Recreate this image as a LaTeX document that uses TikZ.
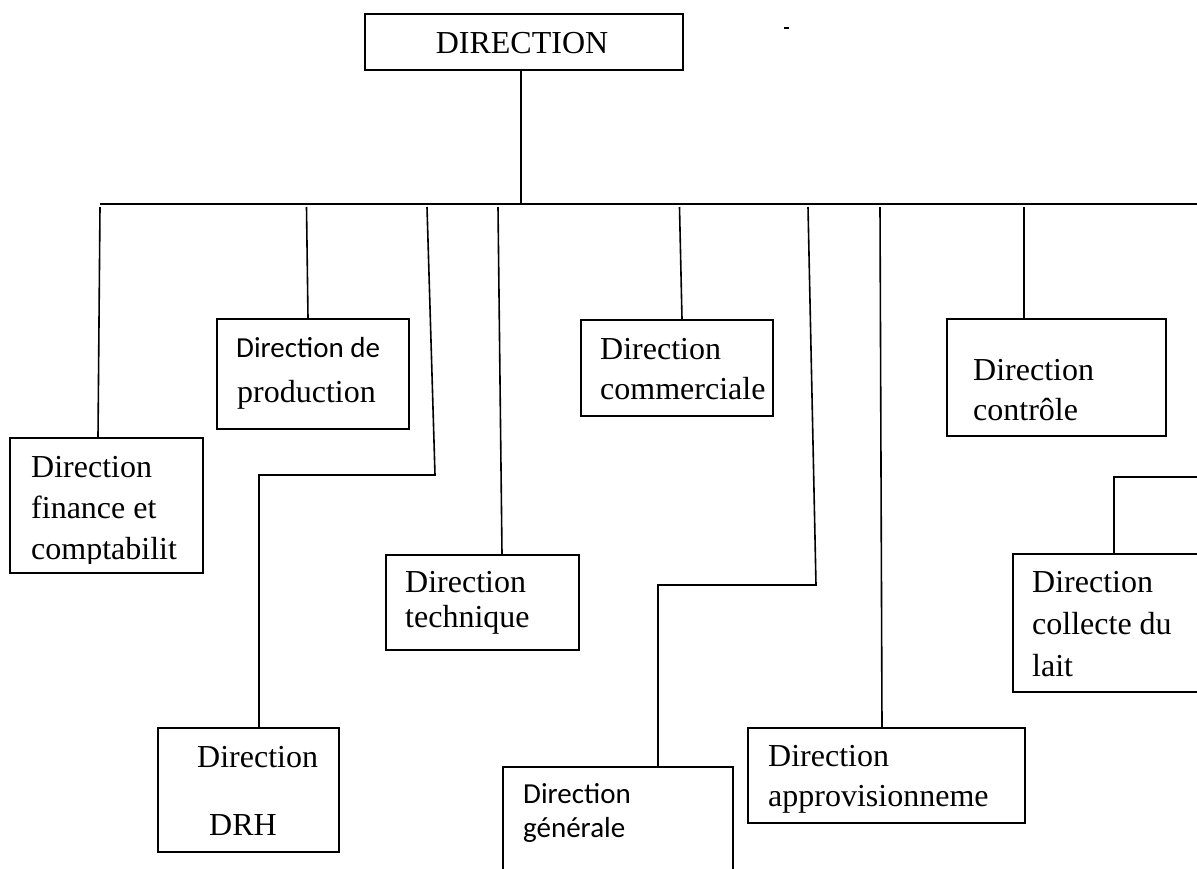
\documentclass[tikz,border=0pt]{standalone}
\usepackage{fontspec}
\setmainfont{Liberation Serif}
\newfontfamily\calibri{Carlito}
\usetikzlibrary{positioning,calc}
\tikzset{
  unit/.style={draw,line width=1.6pt,inner sep=0pt,anchor=north west},
  link/.style={line width=1.6pt},
  lbl/.style={inner sep=0pt,align=left,font=\fontsize{32}{40}\selectfont},
  clbl/.style={inner sep=0pt,align=left,font=\calibri\fontsize{29}{34}\selectfont}
}

\begin{document}
\begin{tikzpicture}[x=1pt,y=-1pt]
  \useasboundingbox (0,0) rectangle (1197,868);
  \clip (0,0) rectangle (1197,868);

  % top box
  \node[unit,minimum width=318,minimum height=56] (dir) at (364,13) {};
  \node[lbl,anchor=base] (dirT) at (522,53) {DIRECTION};
  \draw[link] (784,28) -- (789,28);

  % main bar
  \coordinate (busL) at (100,204);
  \coordinate (busR) at (1197,204);
  \draw[link] (busL) -- (busR);
  \draw[link] ([xshift=-3]dir.south) -- ([xshift=-3]dir.south |- busL);

  % boxes
  \node[unit,minimum width=193,minimum height=135] (fin) at (9,437) {};
  \node[unit,minimum width=192,minimum height=110] (prod) at (216,318) {};
  \node[unit,minimum width=181,minimum height=124] (drh) at (157,727) {};
  \node[unit,minimum width=193,minimum height=95] (tech) at (385,554) {};
  \node[unit,minimum width=192,minimum height=96] (comm) at (580,319) {};
  \node[unit,minimum width=230,minimum height=120] (gen) at (502,766) {};
  \node[unit,minimum width=277,minimum height=95] (appro) at (747,727) {};
  \node[unit,minimum width=219,minimum height=117] (ctrl) at (946,318) {};
  \node[unit,minimum width=200,minimum height=138] (coll) at (1012,553) {};

  % drops from the bar
  \coordinate (finUp) at (100,207);
  \coordinate (prodUp) at (306.5,207);
  \coordinate (drhUp) at (427,207);
  \coordinate (drhBend) at (435,475);
  \coordinate (drhIn) at ([xshift=102]drh.north west);
  \coordinate (techUp) at (498,207);
  \coordinate (commUp) at (679.5,207);
  \coordinate (genUp) at (808,207);
  \coordinate (genBend) at (816,585);
  \coordinate (genIn) at ([xshift=156]gen.north west);
  \coordinate (approUp) at (880,207);
  \coordinate (ctrlUp) at (1024,207);
  \coordinate (collEnd) at (1197,477);
  \coordinate (collIn) at ([xshift=102]coll.north west);

  \draw[link] (finUp) -- ([xshift=89]fin.north west);
  \draw[link] (prodUp) -- ([xshift=92]prod.north west);
  \draw[link] (drhUp) -- (drhBend) -- (drhBend -| drhIn) -- (drhIn);
  \draw[link] (techUp) -- ([xshift=117]tech.north west);
  \draw[link] (commUp) -- ([xshift=102]comm.north west);
  \draw[link] (genUp) -- (genBend) -- (genBend -| genIn) -- (genIn);
  \draw[link] (approUp) -- ([xshift=135]appro.north west);
  \draw[link] (ctrlUp) -- ([xshift=78]ctrl.north west);
  \draw[link] (collEnd) -- (collEnd -| collIn) -- (collIn);

  % labels
  \begin{scope}
    \clip (fin.north west) rectangle ([yshift=10]fin.south east);
    \node[lbl,anchor=north west,font=\fontsize{32}{41}\selectfont] (finT)
      at (31,456) {Direction\\finance et\\comptabilit};
  \end{scope}
  \node[clbl,anchor=base west] (prodA) at (236,357) {Direction de};
  \node[lbl,anchor=base west] (prodB) at (237,402) {production};
  \node[lbl,anchor=base west] (drhA) at (197,767) {Direction};
  \node[lbl,anchor=base west] (drhB) at (209,835) {DRH};
  \node[lbl,anchor=north west,font=\fontsize{32}{35}\selectfont] (techT)
    at (405,571) {Direction\\technique};
  \node[lbl,anchor=north west] (commT) at (600,338) {Direction\\commerciale};
  \node[clbl,anchor=north west] (genT) at (523,783) {Direction\\générale};
  \begin{scope}
    \clip (appro.north west) rectangle ([yshift=10]appro.south east);
    \node[lbl,anchor=north west] (approT) at (768,745) {Direction\\approvisionneme};
  \end{scope}
  \node[lbl,anchor=north west] (ctrlT) at (973,359) {Direction\\contrôle};
  \node[lbl,anchor=north west,font=\fontsize{32}{42}\selectfont] (collT)
    at (1032,571) {Direction\\collecte du\\lait};
\end{tikzpicture}
\end{document}
